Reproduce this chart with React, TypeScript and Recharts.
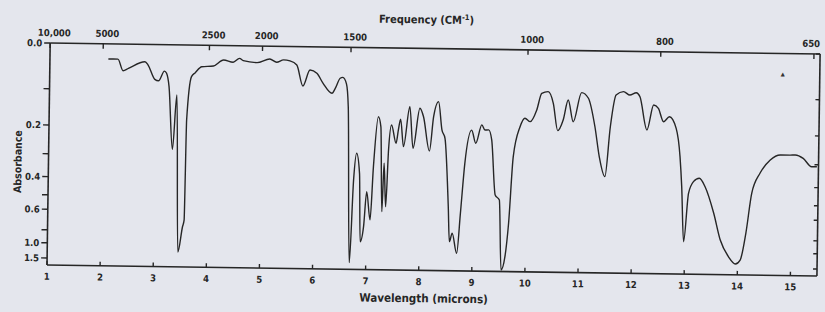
import React from 'react';
import { LineChart, Line, XAxis, YAxis } from 'recharts';

// wavelength in microns
const wavelength = [
  2.1, 2.28, 2.38, 2.48, 2.79, 2.85, 2.98, 3.05, 3.16, 3.2,
  3.25, 3.33, 3.4, 3.46, 3.54, 3.57, 3.59, 3.67, 3.74, 3.86,
  4.08, 4.27, 4.45, 4.57, 4.64, 4.9, 5.14, 5.27, 5.4, 5.52,
  5.65, 5.77, 5.9, 6.03, 6.15, 6.32, 6.38, 6.47, 6.52, 6.59,
  6.63, 6.69, 6.75, 6.8, 6.86, 6.89, 6.95, 7.0, 7.07, 7.12,
  7.2, 7.25, 7.29, 7.32, 7.36, 7.4, 7.45, 7.54, 7.58, 7.62,
  7.68, 7.79, 7.86, 7.98, 8.05, 8.17, 8.24, 8.33, 8.4, 8.46,
  8.54, 8.57, 8.62, 8.71, 8.77, 8.84, 8.96, 9.04, 9.15, 9.21,
  9.28, 9.34, 9.42, 9.5, 9.55, 9.62, 9.68, 9.75, 9.87, 9.96,
  10.06, 10.18, 10.27, 10.39, 10.49, 10.58, 10.68, 10.77, 10.87, 11.02,
  11.15, 11.28, 11.37, 11.48, 11.57, 11.67, 11.81, 11.93, 12.05, 12.12,
  12.26, 12.38, 12.47, 12.57, 12.68, 12.81, 12.89, 12.93, 12.98, 13.06,
  13.15, 13.26, 13.37, 13.54, 13.67, 13.83, 13.96, 14.05, 14.15, 14.25,
  14.4, 14.59, 14.78, 14.96, 15.06, 15.21, 15.37, 15.47,
];

// percent transmittance at each wavelength (the paper's absorbance scale is log of this)
const transmittance = [
  93.2, 93.2, 88.0, 89.1, 92.2, 90.7, 84.3, 83.7, 88.1, 87.1,
  81.1, 52.9, 77.4, 6.7, 18.0, 21.2, 66.2, 85.8, 87.6, 90.3,
  90.7, 93.5, 92.5, 94.3, 93.3, 92.5, 94.2, 92.8, 93.9, 93.5,
  91.7, 82.3, 89.5, 88.1, 83.6, 79.2, 81.4, 86.0, 86.4, 83.5,
  73.2, 3.0, 40.3, 52.3, 43.3, 12.5, 19.3, 35.1, 22.4, 46.4,
  68.9, 64.4, 26.2, 48.0, 28.4, 54.0, 65.3, 57.1, 63.1, 68.0,
  55.6, 73.6, 54.9, 73.0, 69.2, 53.8, 69.3, 76.1, 63.4, 59.6,
  28.8, 13.1, 16.9, 7.9, 25.9, 48.5, 63.5, 57.6, 65.9, 63.6,
  63.7, 59.2, 34.4, 32.2, 0.7, 6.7, 21.8, 51.8, 65.3, 69.2,
  67.7, 73.0, 80.5, 81.3, 76.1, 63.8, 68.6, 77.7, 67.9, 81.1,
  78.6, 65.8, 52.3, 43.4, 65.9, 80.2, 81.8, 80.3, 81.4, 79.6,
  64.7, 76.0, 74.5, 68.5, 70.8, 65.6, 52.9, 39.4, 14.6, 36.4,
  41.7, 43.3, 39.5, 27.6, 15.6, 8.1, 4.9, 6.7, 18.8, 36.8,
  45.9, 52.0, 54.3, 54.3, 54.4, 52.9, 49.2, 49.2,
];

const wavelengthTicks = [1, 2, 3, 4, 5, 6, 7, 8, 9, 10, 11, 12, 13, 14, 15];
const frequencyTicks = [10000, 5000, 2500, 2000, 1500, 1000, 800, 650];
const frequencyLabels = ['10,000', '5000', '2500', '2000', '1500', '1000', '800', '650'];
const absorbanceTicks = [0, 0.1, 0.2, 0.3, 0.4, 0.5, 0.6, 0.8, 1.0, 1.5];
const absorbanceLabels = ['0.0', '', '0.2', '', '0.4', '', '0.6', '', '1.0', '1.5'];

const spectrum = wavelength.map((w, i) => ({ w, t: transmittance[i] }));
const tTicks = absorbanceTicks.map((a) => 100 * Math.pow(10, -a));

const INK = '#262626';
const FONT = "'DejaVu Sans Condensed', 'Liberation Sans Narrow', 'DejaVu Sans', sans-serif";
const tickStyle = { fontSize: 9.5, fontWeight: 700, fill: INK, fontFamily: FONT, fontStretch: 'condensed' };

const absLabel = (v: number) => {
  const i = tTicks.findIndex((t) => Math.abs(t - v) < 0.01);
  return i >= 0 ? absorbanceLabels[i] : '';
};

const freqIndex = (v: number) => frequencyTicks.findIndex((f) => Math.abs(10000 / f - v) < 0.001);

// top labels sit a little right of their ticks on the printed paper; the last one hugs the edge
const FrequencyTick = ({ x, y, payload }: { x: number; y: number; payload: { value: number } }) => {
  const i = freqIndex(payload.value);
  const last = i === frequencyTicks.length - 1;
  return (
    <text
      x={last ? x + 6 : x + 4}
      y={y}
      textAnchor={last ? 'end' : 'middle'}
      fontSize={9.5}
      fontWeight={700}
      fontFamily={FONT}
      fontStretch="condensed"
      fill={INK}
    >
      {i >= 0 ? frequencyLabels[i] : ''}
    </text>
  );
};

export default function App() {
  return (
    <div style={{ position: 'fixed', left: 0, top: 0, width: 825, height: 312, background: '#e4e6ed', overflow: 'hidden' }}>
      <div style={{ position: 'absolute', left: 0, top: 0, transform: 'rotate(0.82deg)', transformOrigin: '47px 265px' }}>
        <LineChart width={825} height={312} data={spectrum} margin={{ top: 23, right: 4, bottom: 17, left: 12 }}>
          <XAxis
            xAxisId="bottom"
            dataKey="w"
            type="number"
            domain={[1, 15.5]}
            allowDataOverflow
            ticks={wavelengthTicks}
            interval={0}
            height={30}
            tickSize={-4}
            tickMargin={12}
            tick={tickStyle}
            axisLine={{ stroke: INK, strokeWidth: 1.6 }}
            tickLine={{ stroke: INK, strokeWidth: 1.4 }}
          />
          <XAxis
            xAxisId="top"
            dataKey="w"
            orientation="top"
            type="number"
            domain={[1, 15.5]}
            allowDataOverflow
            ticks={frequencyTicks.map((f) => 10000 / f)}
            interval={0}
            height={20}
            tickSize={-5}
            tickMargin={12}
            tick={FrequencyTick}
            axisLine={{ stroke: INK, strokeWidth: 1.6 }}
            tickLine={{ stroke: INK, strokeWidth: 1.4 }}
          />
          <YAxis
            yAxisId="left"
            type="number"
            domain={[0, 100]}
            allowDataOverflow
            ticks={tTicks}
            tickFormatter={absLabel}
            interval={0}
            width={35}
            tickSize={6}
            tickMargin={2}
            tick={tickStyle}
            axisLine={{ stroke: INK, strokeWidth: 1.6 }}
            tickLine={{ stroke: INK, strokeWidth: 1.4 }}
          />
          <YAxis
            yAxisId="right"
            orientation="right"
            type="number"
            domain={[0, 100]}
            allowDataOverflow
            ticks={tTicks}
            tickFormatter={() => ''}
            interval={0}
            width={4}
            tickSize={-4}
            axisLine={{ stroke: INK, strokeWidth: 1.6 }}
            tickLine={{ stroke: INK, strokeWidth: 1.4 }}
          />
          <Line
            xAxisId="bottom"
            yAxisId="left"
            dataKey="t"
            type="monotone"
            stroke={INK}
            strokeWidth={1.4}
            dot={false}
            activeDot={false}
            isAnimationActive={false}
          />
          <text x={423} y={18} textAnchor="middle" fontFamily={FONT} fontWeight={700} fontSize={11} fontStretch="condensed" fill={INK}>
            Frequency (CM
            <tspan fontSize={7.5} dy={-4}>-1</tspan>
            <tspan dy={4}>)</tspan>
          </text>
          <text x={424} y={297} textAnchor="middle" fontFamily={FONT} fontWeight={700} fontSize={11.5} fontStretch="condensed" fill={INK}>
            Wavelength (microns)
          </text>
          <text
            x={20}
            y={162}
            textAnchor="middle"
            transform="rotate(-90 20 162)"
            fontFamily={FONT}
            fontWeight={700}
            fontSize={10.5}
            fontStretch="condensed"
            fill={INK}
          >
            Absorbance
          </text>
          <text x={780} y={66} textAnchor="middle" fontSize={7} fill="#333">
            ▲
          </text>
        </LineChart>
      </div>
    </div>
  );
}
